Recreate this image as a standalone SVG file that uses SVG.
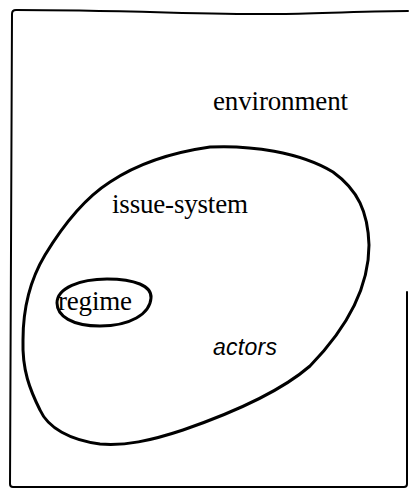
<svg xmlns="http://www.w3.org/2000/svg" width="409" height="491" viewBox="0 0 409 491">
  <style>
    .frame { fill: none; stroke: #000; stroke-width: 2; stroke-linecap: round; stroke-linejoin: round; }
    .outline { fill: none; stroke: #000; stroke-width: 3; stroke-linejoin: round; }
    .label { font-family: "Liberation Serif", "Times New Roman", serif; font-size: 27px; fill: #000; }
    .label-it { font-family: "Liberation Sans", Arial, sans-serif; font-size: 23px; font-style: italic; fill: #000; }
  </style>
  <rect width="409" height="491" fill="#fff"/>

  <!-- environment frame (open on the upper right side) -->
  <g id="environment">
    <path class="frame" d="M407,292 L407,484 Q407,487 404,487 L13,487 Q10,487 10,484 L12,14 Q12,10 16,10 C120,10 220,15 280,14 C330,13 380,11 408,11"/>
    <text class="label" x="213" y="110" textLength="135" lengthAdjust="spacing">environment</text>
  </g>

  <!-- issue-system boundary -->
  <g id="issue-system">
    <path class="outline" d="M210,147 C250,145 300,152 333,172 C358,190 368,212 369,245 C369,290 345,330 310,366 C280,392 235,412 183,430 C150,441 125,446 100,444 C70,440 48,428 40,410 C30,390 22,370 23,340 C23,310 30,280 45,255 C65,222 85,198 110,182 C140,162 175,152 210,147 Z"/>
    <text class="label" x="112" y="213" textLength="136" lengthAdjust="spacing">issue-system</text>
  </g>

  <!-- regime -->
  <g id="regime">
    <path class="outline" d="M57,303 C57,288 80,279 107,279 C135,279 152,286 151,298 C150,314 130,326 100,326 C72,326 57,316 57,303 Z"/>
    <text class="label" x="58" y="310" textLength="74" lengthAdjust="spacing">regime</text>
  </g>

  <!-- actors -->
  <g id="actors">
    <text class="label-it" x="213" y="355" textLength="64" lengthAdjust="spacing">actors</text>
  </g>
</svg>
